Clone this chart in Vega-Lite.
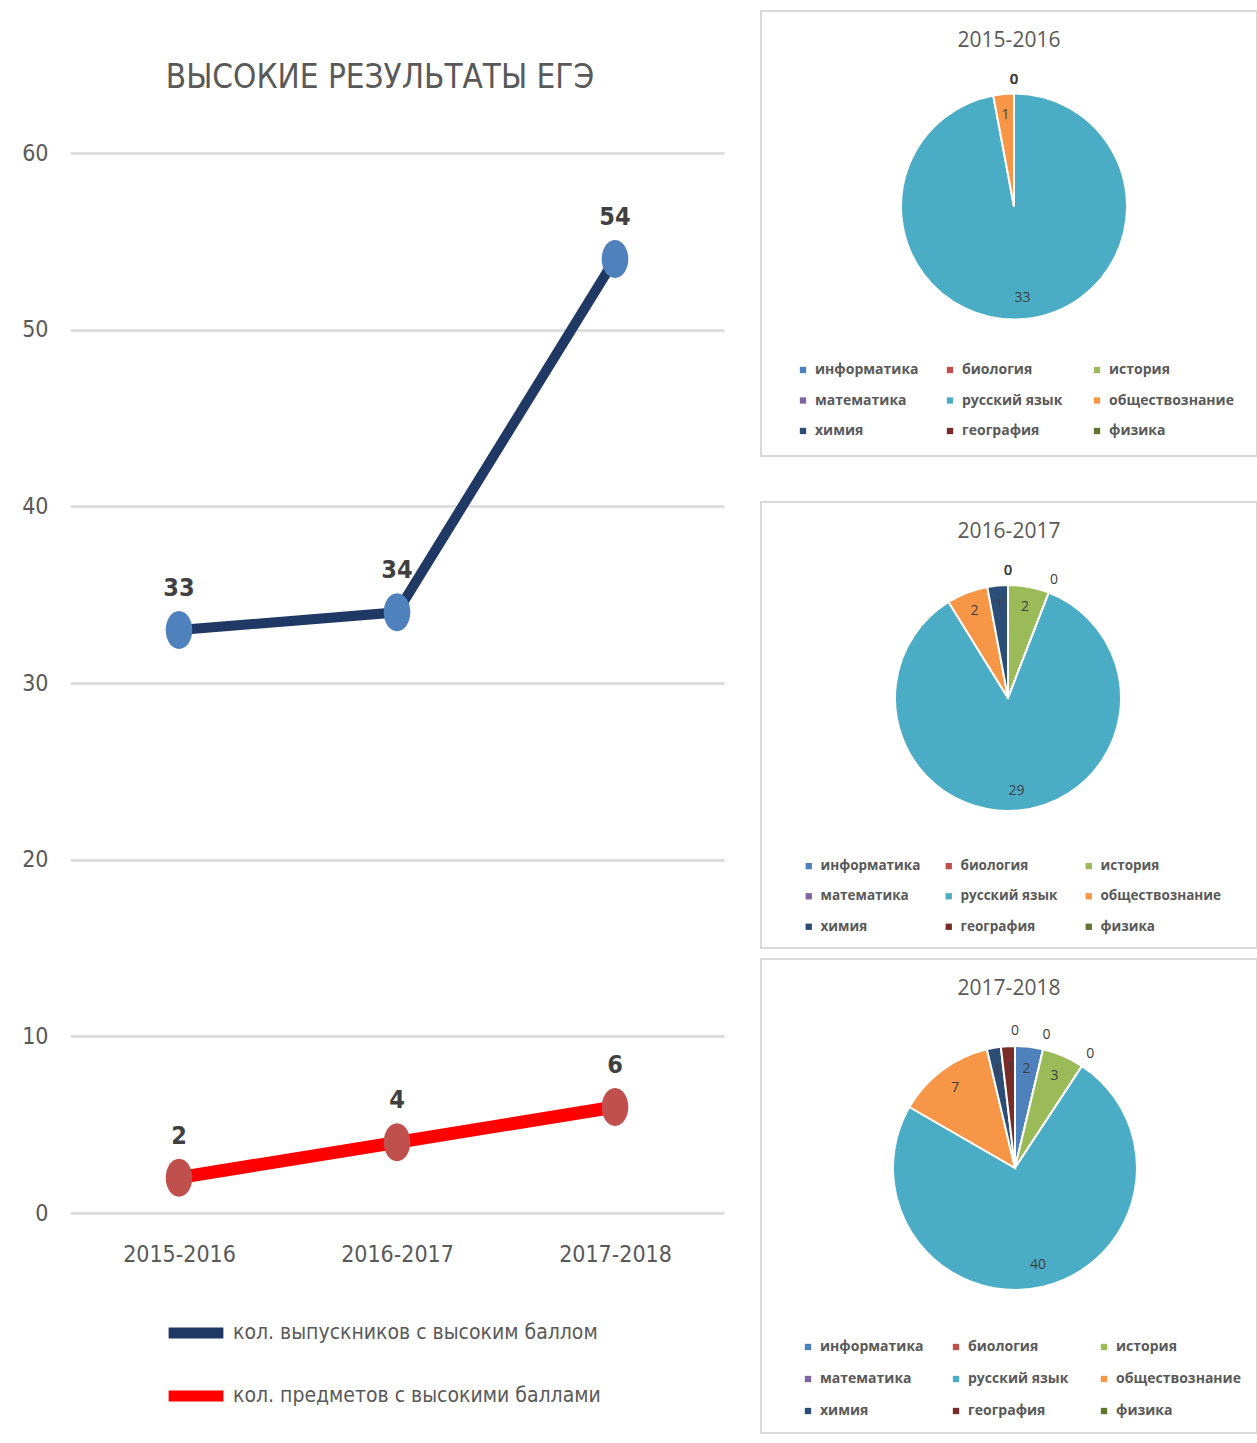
{
  "$schema": "https://vega.github.io/schema/vega-lite/v6.json",
  "background": "white",
  "padding": {"left": 21, "top": 10, "right": 0, "bottom": 0},
  "config": {"view": {"stroke": null}},
  "spacing": 36,
  "resolve": {"scale": {"color": "independent", "fill": "independent"}, "legend": {"color": "independent"}},
  "datasets": {
    "lines": [
      {"year": "2015-2016", "series": "кол. выпускников с высоким баллом", "value": 33},
      {"year": "2016-2017", "series": "кол. выпускников с высоким баллом", "value": 34},
      {"year": "2017-2018", "series": "кол. выпускников с высоким баллом", "value": 54},
      {"year": "2015-2016", "series": "кол. предметов с высокими баллами", "value": 2},
      {"year": "2016-2017", "series": "кол. предметов с высокими баллами", "value": 4},
      {"year": "2017-2018", "series": "кол. предметов с высокими баллами", "value": 6}
    ],
    "pies": [
      {"year": "2015-2016", "subject": "информатика", "k": 1, "count": 0},
      {"year": "2015-2016", "subject": "биология", "k": 2, "count": 0},
      {"year": "2015-2016", "subject": "история", "k": 3, "count": 0},
      {"year": "2015-2016", "subject": "математика", "k": 4, "count": 0},
      {"year": "2015-2016", "subject": "русский язык", "k": 5, "count": 33},
      {"year": "2015-2016", "subject": "обществознание", "k": 6, "count": 1},
      {"year": "2015-2016", "subject": "химия", "k": 7, "count": 0},
      {"year": "2015-2016", "subject": "география", "k": 8, "count": 0},
      {"year": "2015-2016", "subject": "физика", "k": 9, "count": 0},
      {"year": "2016-2017", "subject": "информатика", "k": 1, "count": 0},
      {"year": "2016-2017", "subject": "биология", "k": 2, "count": 0},
      {"year": "2016-2017", "subject": "история", "k": 3, "count": 2},
      {"year": "2016-2017", "subject": "математика", "k": 4, "count": 0},
      {"year": "2016-2017", "subject": "русский язык", "k": 5, "count": 29},
      {"year": "2016-2017", "subject": "обществознание", "k": 6, "count": 2},
      {"year": "2016-2017", "subject": "химия", "k": 7, "count": 1},
      {"year": "2016-2017", "subject": "география", "k": 8, "count": 0},
      {"year": "2016-2017", "subject": "физика", "k": 9, "count": 0},
      {"year": "2017-2018", "subject": "информатика", "k": 1, "count": 2},
      {"year": "2017-2018", "subject": "биология", "k": 2, "count": 0},
      {"year": "2017-2018", "subject": "история", "k": 3, "count": 3},
      {"year": "2017-2018", "subject": "математика", "k": 4, "count": 0},
      {"year": "2017-2018", "subject": "русский язык", "k": 5, "count": 40},
      {"year": "2017-2018", "subject": "обществознание", "k": 6, "count": 7},
      {"year": "2017-2018", "subject": "химия", "k": 7, "count": 1},
      {"year": "2017-2018", "subject": "география", "k": 8, "count": 1},
      {"year": "2017-2018", "subject": "физика", "k": 9, "count": 0}
    ]
  },
  "hconcat": [
    {
      "width": 654,
      "height": 1202,
      "data": {"name": "lines"},
      "title": {"text": "ВЫСОКИЕ РЕЗУЛЬТАТЫ ЕГЭ", "font": "Liberation Sans Narrow, DejaVu Sans Condensed, sans-serif", "fontSize": 33, "fontWeight": "normal", "color": "#595959", "offset": -84, "dx": -17},
      "encoding": {
        "x": {"field": "year", "type": "ordinal", "scale": {"type": "point", "padding": 0.5},
          "axis": {"title": null, "labelAngle": 0, "labelFont": "Liberation Sans Narrow, DejaVu Sans Condensed, sans-serif", "labelFontSize": 23, "labelColor": "#595959", "labelPadding": 30, "ticks": false, "domain": false, "grid": false}},
        "y": {"field": "value", "type": "quantitative", "scale": {"domain": [0, 68.04], "nice": false},
          "axis": {"title": null, "values": [0, 10, 20, 30, 40, 50, 60], "labelFont": "Liberation Sans Narrow, DejaVu Sans Condensed, sans-serif", "labelFontSize": 23, "labelColor": "#595959", "labelPadding": 22, "ticks": false, "domain": false, "gridColor": "#d9d9d9", "gridWidth": 2.5}},
        "color": {"field": "series", "type": "nominal",
          "scale": {"domain": ["кол. выпускников с высоким баллом", "кол. предметов с высокими баллами"], "range": ["#1f3864", "#ff0000"]},
          "legend": {"title": null, "orient": "none", "legendX": 93, "legendY": 1289, "direction": "vertical", "symbolType": "stroke", "symbolSize": 3000, "symbolStrokeWidth": 11, "labelFont": "Liberation Sans Narrow, DejaVu Sans Condensed, sans-serif", "labelFontSize": 21, "labelColor": "#595959", "labelLimit": 0, "rowPadding": 8, "labelOffset": 4}}
      },
      "layer": [
        {"mark": {"type": "line"},
          "encoding": {"strokeWidth": {"field": "series", "type": "nominal", "scale": {"domain": ["кол. выпускников с высоким баллом", "кол. предметов с высокими баллами"], "range": [10, 13]}, "legend": null}}},
        {"mark": {"type": "point", "filled": true, "size": 1444, "opacity": 1, "shape": "M0,-1A0.7,1,0,1,1,0,1A0.7,1,0,1,1,0,-1Z"},
          "encoding": {"fill": {"field": "series", "type": "nominal", "scale": {"domain": ["кол. выпускников с высоким баллом", "кол. предметов с высокими баллами"], "range": ["#4f81bd", "#c0504d"]}, "legend": null}}},
        {"mark": {"type": "text", "dy": -42, "font": "Liberation Sans Narrow, DejaVu Sans Condensed, sans-serif", "fontSize": 25, "fontWeight": "bold"},
          "encoding": {"text": {"field": "value", "type": "quantitative"}, "color": {"value": "#404040"}}}
      ]
    },
    {
      "spacing": 44,
      "resolve": {"scale": {"color": "independent", "theta": "independent"}, "legend": {"color": "independent"}},
      "vconcat": [
        {
          "width": 496, "height": 445,
          "view": {"stroke": "#d9d9d9", "strokeWidth": 2},
          "data": {"name": "pies"},
          "transform": [{"filter": "datum.year == '2015-2016'"}],
          "title": {"text": "2015-2016", "font": "Open Sans", "fontSize": 21, "fontWeight": "normal", "color": "#595959", "offset": -40},
          "encoding": {
            "theta": {"field": "count", "type": "quantitative", "stack": true},
            "order": {"field": "k", "type": "quantitative"},
            "color": {"field": "subject", "type": "nominal",
              "scale": {"domain": ["информатика", "биология", "история", "математика", "русский язык", "обществознание", "химия", "география", "физика"], "range": ["#4f81bd", "#c0504d", "#9bbb59", "#8064a2", "#4bacc6", "#f79646", "#2c4d75", "#772c2a", "#5f7530"]},
              "legend": {"title": null, "orient": "none", "legendX": 35, "legendY": 352, "columns": 3, "direction": "horizontal", "gridAlign": "all", "symbolType": "square", "symbolSize": 40, "symbolStrokeWidth": 0, "labelFont": "Open Sans", "labelFontWeight": "bold", "labelFontSize": 14, "labelColor": "#595959", "labelLimit": 300, "rowPadding": 16.5, "columnPadding": 3, "labelOffset": 5}}
          },
          "layer": [
            {"mark": {"type": "arc", "outerRadius": 113, "stroke": "white", "strokeWidth": 2, "xOffset": 5, "yOffset": -27}},
            {"mark": {"type": "text", "radius": 92, "font": "Open Sans", "fontSize": 14, "xOffset": 5, "yOffset": -27},
              "encoding": {"text": {"condition": {"test": "datum.count > 0", "field": "count", "type": "quantitative"}, "value": ""}, "color": {"value": "#404040"}}},
            {"mark": {"type": "text", "radius": 127, "font": "Open Sans", "fontSize": 14, "xOffset": 5, "yOffset": -27},
              "encoding": {"text": {"condition": {"test": "datum.count == 0", "value": "0"}, "value": ""}, "color": {"value": "#404040"}}}
          ]
        },
        {
          "spacing": 9,
          "resolve": {"scale": {"color": "independent", "theta": "independent"}, "legend": {"color": "independent"}},
          "vconcat": [
            {
              "width": 496, "height": 446,
              "view": {"stroke": "#d9d9d9", "strokeWidth": 2},
              "data": {"name": "pies"},
              "transform": [{"filter": "datum.year == '2016-2017'"}],
              "title": {"text": "2016-2017", "font": "Open Sans", "fontSize": 21, "fontWeight": "normal", "color": "#595959", "offset": -40},
              "encoding": {
                "theta": {"field": "count", "type": "quantitative", "stack": true},
                "order": {"field": "k", "type": "quantitative"},
                "color": {"field": "subject", "type": "nominal",
                  "scale": {"domain": ["информатика", "биология", "история", "математика", "русский язык", "обществознание", "химия", "география", "физика"], "range": ["#4f81bd", "#c0504d", "#9bbb59", "#8064a2", "#4bacc6", "#f79646", "#2c4d75", "#772c2a", "#5f7530"]},
                  "legend": {"title": null, "orient": "none", "legendX": 41, "legendY": 357, "columns": 3, "direction": "horizontal", "gridAlign": "all", "symbolType": "square", "symbolSize": 40, "symbolStrokeWidth": 0, "labelFont": "Open Sans", "labelFontWeight": "bold", "labelFontSize": 13.5, "labelColor": "#595959", "labelLimit": 300, "rowPadding": 15.5, "columnPadding": 0, "labelOffset": 5}}
              },
              "layer": [
                {"mark": {"type": "arc", "outerRadius": 113, "stroke": "white", "strokeWidth": 2, "xOffset": -1, "yOffset": -27}},
                {"mark": {"type": "text", "radius": 93, "font": "Open Sans", "fontSize": 14, "xOffset": -1, "yOffset": -27},
                  "encoding": {"text": {"condition": {"test": "datum.count > 0", "field": "count", "type": "quantitative"}, "value": ""}, "color": {"value": "#404040"}}},
                {"mark": {"type": "text", "radius": 127, "font": "Open Sans", "fontSize": 14, "xOffset": -1, "yOffset": -27},
                  "encoding": {"text": {"condition": {"test": "datum.count == 0", "value": "0"}, "value": ""}, "color": {"value": "#404040"}}}
              ]
            },
            {
              "width": 496, "height": 474,
              "view": {"stroke": "#d9d9d9", "strokeWidth": 2},
              "data": {"name": "pies"},
              "transform": [{"filter": "datum.year == '2017-2018'"}],
              "title": {"text": "2017-2018", "font": "Open Sans", "fontSize": 21, "fontWeight": "normal", "color": "#595959", "offset": -40},
              "encoding": {
                "theta": {"field": "count", "type": "quantitative", "stack": true},
                "order": {"field": "k", "type": "quantitative"},
                "color": {"field": "subject", "type": "nominal",
                  "scale": {"domain": ["информатика", "биология", "история", "математика", "русский язык", "обществознание", "химия", "география", "физика"], "range": ["#4f81bd", "#c0504d", "#9bbb59", "#8064a2", "#4bacc6", "#f79646", "#2c4d75", "#772c2a", "#5f7530"]},
                  "legend": {"title": null, "orient": "none", "legendX": 40, "legendY": 381, "columns": 3, "direction": "horizontal", "gridAlign": "all", "symbolType": "square", "symbolSize": 40, "symbolStrokeWidth": 0, "labelFont": "Open Sans", "labelFontWeight": "bold", "labelFontSize": 14, "labelColor": "#595959", "labelLimit": 300, "rowPadding": 18, "columnPadding": 4, "labelOffset": 5}}
              },
              "layer": [
                {"mark": {"type": "arc", "outerRadius": 122, "stroke": "white", "strokeWidth": 2, "xOffset": 6, "yOffset": -28}},
                {"mark": {"type": "text", "radius": 100, "font": "Open Sans", "fontSize": 14, "xOffset": 6, "yOffset": -28},
                  "encoding": {"text": {"condition": {"test": "datum.count > 0", "field": "count", "type": "quantitative"}, "value": ""}, "color": {"value": "#404040"}}},
                {"mark": {"type": "text", "radius": 137, "font": "Open Sans", "fontSize": 14, "xOffset": 6, "yOffset": -28},
                  "encoding": {"text": {"condition": {"test": "datum.count == 0", "value": "0"}, "value": ""}, "color": {"value": "#404040"}}}
              ]
            }
          ]
        }
      ]
    }
  ]
}
